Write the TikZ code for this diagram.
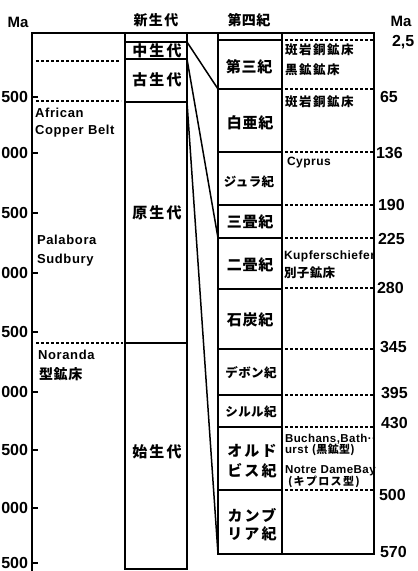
\documentclass[tikz,border=0pt]{standalone}
\usepackage{fontspec}
\setmainfont{Liberation Sans}
\newfontfamily\jpEra{Noto Sans CJK JP}[LetterSpace=14]
\newfontfamily\jpHd{Noto Sans CJK JP}[LetterSpace=10]
\newfontfamily\jpPer{Noto Sans CJK JP}[LetterSpace=5]
\newfontfamily\jpDep{Noto Sans CJK JP}[LetterSpace=12]
\newfontfamily\jpSm{Noto Sans CJK JP}[LetterSpace=3]
\newfontfamily\lsA{Liberation Sans}[LetterSpace=5]
\newfontfamily\lsB{Liberation Sans}[LetterSpace=4]
\newcommand\fsz[1]{\fontsize{#1}{#1}\selectfont}
\begin{document}
\begin{tikzpicture}[x=1pt,y=-1pt,
  frame/.style={line width=1.8pt},
  bline/.style={line width=1.5pt},
  dots/.style={line width=1.1pt, dash pattern=on 2.6pt off 2.4pt},
  lbl/.style={inner sep=0pt, outer sep=0pt},
  num/.style={lbl, font=\fsz{16}\bfseries},
  era/.style={lbl, font=\fsz{15}\jpEra\bfseries},
  per/.style={lbl, font=\fsz{15}\jpPer\bfseries},
  per4/.style={lbl, font=\fsz{12.5}\jpSm\bfseries},
  dep/.style={lbl, anchor=west, font=\fsz{12.5}\jpDep\bfseries},
  depl/.style={lbl, anchor=west, font=\fsz{12}\lsB\bfseries},
  deps/.style={lbl, anchor=west, font=\fsz{11.5}\lsB\bfseries},
  leftl/.style={lbl, anchor=west, font=\fsz{13}\lsA\bfseries}]
\useasboundingbox (0,0) rectangle (418,571);

% ---- frames
\draw[frame] (32,571) -- (32,33) -- (374,33) -- (374,554) -- (218,554) -- (218,33);
\draw[frame] (125,33) -- (125,569) -- (187,569) -- (187,33);
\draw[frame] (282,33) -- (282,554);

% ---- era boundaries
\foreach \y in {42,59,102,343} \draw[bline] (125,\y) -- (187,\y);
% ---- period boundaries
\foreach \y in {40,89,152,205,238,289,349,395,427,490} \draw[bline] (218,\y) -- (282,\y);

% ---- connectors between era and period columns
\coordinate (e65) at (187,42);
\coordinate (e225) at (187,59);
\coordinate (e570) at (187,102);
\coordinate (p65) at (218,89);
\coordinate (p225) at (218,238);
\coordinate (p570) at (218,554);
\draw[bline] (e65) -- (p65);
\draw[bline] (e225) -- (p225);
\draw[bline] (e570) -- (p570);

% ---- left axis ticks and labels
\foreach \y/\t [count=\i] in {97/500,153/000,213/500,273/000,332/500,392/000,450/500,508/000,563/500}{
  \draw[bline] (32,\y) -- (38,\y);
  \node[num, anchor=east] (L\i) at (28,\y) {\t};
}
\node[lbl, font=\fsz{15}\bfseries] (maL) at (18,22) {Ma};
\node[lbl, font=\fsz{15}\bfseries] (maR) at (401,21) {Ma};
\node[lbl, font=\fsz{14}\jpHd\bfseries] (hEra) at (156,20) {新生代};
\node[lbl, font=\fsz{14}\jpSm\bfseries] (hPer) at (249,20) {第四紀};

% ---- left column dashed lines and texts
\draw[dots] (36,61) -- (120,61);
\draw[dots] (36,101) -- (121,101);
\draw[dots] (36,343) -- (123,343);
\node[leftl] (t1) at (35,113) {African};
\node[leftl] (t2) at (35,131) {Copper Belt};
\node[leftl] (t3) at (37,240) {Palabora};
\node[leftl] (t4) at (37,260) {Sudbury};
\node[leftl] (t5) at (38,355) {Noranda};
\node[lbl, anchor=west, font=\fsz{14}\jpPer\bfseries] (t6) at (39,374) {型鉱床};

% ---- era labels
\node[era] (era1) at (157,50.5) {中生代};
\node[era] (era2) at (157,80) {古生代};
\node[era] (era3) at (157,213) {原生代};
\node[era] (era4) at (157,452) {始生代};

% ---- period labels
\node[per] (pr1) at (249,67) {第三紀};
\node[per] (pr2) at (250,123) {白亜紀};
\node[per4] (pr3) at (249,182) {ジュラ紀};
\node[per] (pr4) at (250,222) {三畳紀};
\node[per] (pr5) at (250,265) {二畳紀};
\node[per] (pr6) at (250,320) {石炭紀};
\node[per4] (pr7) at (251,373) {デボン紀};
\node[per4] (pr8) at (251,412) {シルル紀};
\node[era] (pr9a) at (252,451) {オルド};
\node[era] (pr9b) at (252,471) {ビス紀};
\node[era] (pr10a) at (252,515) {カンブ};
\node[era] (pr10b) at (252,534) {リア紀};

% ---- deposit column dashed lines
\foreach \y in {40,89,152,205,238,288,349,395,427,490} \draw[dots] (285,\y) -- (373,\y);

% ---- deposit texts
\node[dep] (d1) at (285,50) {斑岩銅鉱床};
\node[dep] (d2) at (285,70) {黒鉱鉱床};
\node[dep] (d3) at (285,102) {斑岩銅鉱床};
\node[depl] (d4) at (287,163) {Cyprus};
\node[depl] (d5) at (284,256) {Kupferschiefer};
\node[lbl, anchor=west, font=\fsz{12.5}\jpSm\bfseries] (d6) at (284,273) {別子鉱床};
\node[deps] (d7) at (285,439) {Buchans,Bath··};
\node[deps] (d8) at (285,450) {urst {\fsz{11}\jpSm\bfseries(黒鉱型)}};
\node[deps] (d9) at (285,471) {Notre DameBay};
\node[lbl, anchor=west, font=\fsz{11}\jpDep\bfseries] (d10) at (288,482) {(キプロス型)};

% ---- right axis labels
\node[num, anchor=west] (r1) at (392,42) {2,5};
\node[num, anchor=west] (r2) at (380,97) {65};
\node[num, anchor=west] (r3) at (376,153) {136};
\node[num, anchor=west] (r4) at (378,205) {190};
\node[num, anchor=west] (r5) at (378,239) {225};
\node[num, anchor=west] (r6) at (377,288) {280};
\node[num, anchor=west] (r7) at (380,347) {345};
\node[num, anchor=west] (r8) at (381,393) {395};
\node[num, anchor=west] (r9) at (381,423) {430};
\node[num, anchor=west] (r10) at (379,495) {500};
\node[num, anchor=west] (r11) at (380,552) {570};
\end{tikzpicture}
\end{document}
